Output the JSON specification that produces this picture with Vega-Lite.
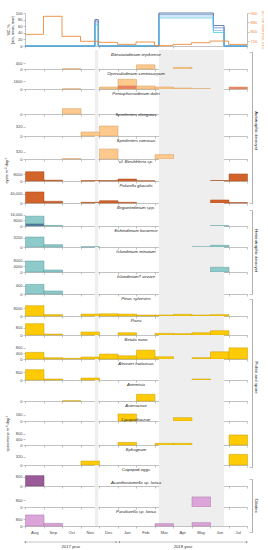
{
"$schema":"https://vega.github.io/schema/vega-lite/v6.json",
"padding":{"left":4,"top":9,"right":0,"bottom":0},
"bounds":"flush",
"spacing":0,
"resolve":{"scale":{"color":"independent"}},
"config":{
 "view":{"stroke":null},
 "font":"Liberation Sans",
 "axis":{"labelFontSize":4,"labelColor":"#444","tickColor":"#999","domainColor":"#999","tickWidth":0.6,"domainWidth":0.6,"grid":false,"labelPadding":1,"tickSize":2,"titleFontSize":4,"titleFontWeight":"normal","titleColor":"#222","labelFlush":false,"labelOverlap":false,"minExtent":0},
 "axisX":{"labels":false},
 "axisY":{"domain":false,"labelExpr":"datum.value >= 10000 ? format(datum.value, ',') : format(datum.value, 'd')"},
 "axisRight":{"labels":false,"ticks":false,"domain":true,"domainColor":"#777","domainWidth":0.6,"offset":5,"titleFontSize":4.3,"titleAngle":90,"titleX":3.5,"titleBaseline":"middle","titleAlign":"center","titleColor":"#111"},
 "title":{"fontSize":4.3,"fontStyle":"italic","fontWeight":"normal","color":"#222","offset":-7,"frame":"group","anchor":"middle","baseline":"bottom"}
},
"datasets":{
 "shade":[{"from":3.78,"to":3.96},{"from":7.24,"to":10.76}],
 "sic":[
  {"stat":"max","t":0,"sic":0},{"stat":"max","t":3.78,"sic":80},{"stat":"max","t":3.96,"sic":0},{"stat":"max","t":7.24,"sic":100},{"stat":"max","t":10.18,"sic":62},{"stat":"max","t":10.76,"sic":0},{"stat":"max","t":12,"sic":0},
  {"stat":"upper","t":0,"sic":0},{"stat":"upper","t":3.78,"sic":76},{"stat":"upper","t":3.96,"sic":0},{"stat":"upper","t":7.24,"sic":96},{"stat":"upper","t":10.18,"sic":55},{"stat":"upper","t":10.76,"sic":0},{"stat":"upper","t":12,"sic":0},
  {"stat":"mean","t":0,"sic":0},{"stat":"mean","t":3.78,"sic":70},{"stat":"mean","t":3.96,"sic":0},{"stat":"mean","t":7.24,"sic":91},{"stat":"mean","t":10.18,"sic":47},{"stat":"mean","t":10.76,"sic":0},{"stat":"mean","t":12,"sic":0},
  {"stat":"min","t":0,"sic":0},{"stat":"min","t":3.78,"sic":64},{"stat":"min","t":3.96,"sic":0},{"stat":"min","t":7.24,"sic":85},{"stat":"min","t":10.18,"sic":41},{"stat":"min","t":10.76,"sic":0},{"stat":"min","t":12,"sic":0}
 ],
 "flux":[{"t":0,"flux":779},{"t":1,"flux":932},{"t":2,"flux":762},{"t":3,"flux":720},{"t":4,"flux":711},{"t":5,"flux":694},{"t":6,"flux":714},{"t":7,"flux":683},{"t":8,"flux":694},{"t":9,"flux":708},{"t":10,"flux":722},{"t":11,"flux":694},{"t":12,"flux":694}],
 "years":[{"year":"2017 year","from":0,"to":4.95},{"year":"2018 year","from":5.08,"to":12}],
 "bars":[
  {"taxon":"Bitectatodinium tepikiense","m":2,"v":15},{"taxon":"Bitectatodinium tepikiense","m":6,"v":280},{"taxon":"Bitectatodinium tepikiense","m":8,"v":110},
  {"taxon":"Operculodinium centrocarpum","m":2,"v":40,"part":"main"},{"taxon":"Operculodinium centrocarpum","m":4,"v":400,"part":"main"},{"taxon":"Operculodinium centrocarpum","m":5,"v":1350,"part":"main"},{"taxon":"Operculodinium centrocarpum","m":5,"v":600,"part":"upper"},{"taxon":"Operculodinium centrocarpum","m":6,"v":600,"part":"main"},{"taxon":"Operculodinium centrocarpum","m":7,"v":400,"part":"main"},{"taxon":"Operculodinium centrocarpum","m":8,"v":200,"part":"main"},{"taxon":"Operculodinium centrocarpum","m":9,"v":60,"part":"main"},{"taxon":"Operculodinium centrocarpum","m":11,"v":400,"part":"upper"},
  {"taxon":"Pentapharsodinium dalei","m":2,"v":100},
  {"taxon":"Spiniferites elongatus","m":3,"v":142},{"taxon":"Spiniferites elongatus","m":4,"v":356},
  {"taxon":"Spiniferites ramosus","m":2,"v":15},{"taxon":"Spiniferites ramosus","m":4,"v":436},{"taxon":"Spiniferites ramosus","m":7,"v":190},
  {"taxon":"cf. Biecheleria sp.","m":0,"v":11100},{"taxon":"cf. Biecheleria sp.","m":1,"v":1000},{"taxon":"cf. Biecheleria sp.","m":3,"v":500},{"taxon":"cf. Biecheleria sp.","m":4,"v":500},{"taxon":"cf. Biecheleria sp.","m":5,"v":2400},{"taxon":"cf. Biecheleria sp.","m":6,"v":300},{"taxon":"cf. Biecheleria sp.","m":10,"v":600},{"taxon":"cf. Biecheleria sp.","m":11,"v":8400},
  {"taxon":"Polarella glacialis","m":0,"v":47500},{"taxon":"Polarella glacialis","m":1,"v":7500},{"taxon":"Polarella glacialis","m":3,"v":3000},{"taxon":"Polarella glacialis","m":4,"v":10000},{"taxon":"Polarella glacialis","m":5,"v":3000},{"taxon":"Polarella glacialis","m":10,"v":13000},{"taxon":"Polarella glacialis","m":11,"v":2000},
  {"taxon":"Brigantedinium spp.","m":0,"v":11000,"part":"main"},{"taxon":"Brigantedinium spp.","m":0,"v":2900,"part":"upper"},{"taxon":"Brigantedinium spp.","m":1,"v":800,"part":"main"},{"taxon":"Brigantedinium spp.","m":10,"v":400,"part":"main"},
  {"taxon":"Echinidinium karaense","m":0,"v":3440},{"taxon":"Echinidinium karaense","m":1,"v":800},{"taxon":"Echinidinium karaense","m":3,"v":80},{"taxon":"Echinidinium karaense","m":9,"v":60},{"taxon":"Echinidinium karaense","m":10,"v":580},
  {"taxon":"Islandinium minutum","m":0,"v":8000},{"taxon":"Islandinium minutum","m":1,"v":1450},{"taxon":"Islandinium minutum","m":10,"v":3400},
  {"taxon":"Islandinium? cezare","m":0,"v":465},{"taxon":"Islandinium? cezare","m":1,"v":145},
  {"taxon":"Pinus sylvestris","m":0,"v":10700},{"taxon":"Pinus sylvestris","m":1,"v":1400},{"taxon":"Pinus sylvestris","m":3,"v":2000},{"taxon":"Pinus sylvestris","m":4,"v":2300},{"taxon":"Pinus sylvestris","m":5,"v":2000},{"taxon":"Pinus sylvestris","m":6,"v":1000},{"taxon":"Pinus sylvestris","m":7,"v":1000},{"taxon":"Pinus sylvestris","m":8,"v":1700},{"taxon":"Pinus sylvestris","m":9,"v":1000},{"taxon":"Pinus sylvestris","m":10,"v":1400},
  {"taxon":"Picea","m":0,"v":1240},{"taxon":"Picea","m":1,"v":100},{"taxon":"Picea","m":3,"v":330},{"taxon":"Picea","m":5,"v":250},{"taxon":"Picea","m":7,"v":180},{"taxon":"Picea","m":8,"v":150},{"taxon":"Picea","m":9,"v":250},{"taxon":"Picea","m":10,"v":470},
  {"taxon":"Betula nana","m":0,"v":470},{"taxon":"Betula nana","m":1,"v":90},{"taxon":"Betula nana","m":2,"v":50},{"taxon":"Betula nana","m":3,"v":140},{"taxon":"Betula nana","m":4,"v":350},{"taxon":"Betula nana","m":5,"v":230},{"taxon":"Betula nana","m":6,"v":630},{"taxon":"Betula nana","m":7,"v":160},{"taxon":"Betula nana","m":9,"v":90},{"taxon":"Betula nana","m":10,"v":510},{"taxon":"Betula nana","m":11,"v":790},
  {"taxon":"Alnaster fruticosus","m":0,"v":1030},{"taxon":"Alnaster fruticosus","m":1,"v":100},{"taxon":"Alnaster fruticosus","m":3,"v":200},{"taxon":"Alnaster fruticosus","m":9,"v":100},
  {"taxon":"Artemisia","m":2,"v":3},{"taxon":"Artemisia","m":6,"v":80},
  {"taxon":"Asteraceae","m":5,"v":187},{"taxon":"Asteraceae","m":8,"v":88},
  {"taxon":"Lycopodiaceae","m":5,"v":190},{"taxon":"Lycopodiaceae","m":7,"v":120},{"taxon":"Lycopodiaceae","m":8,"v":120},{"taxon":"Lycopodiaceae","m":11,"v":730},
  {"taxon":"Sphagnum","m":3,"v":154},{"taxon":"Sphagnum","m":11,"v":410},
  {"taxon":"Copepod eggs","m":0,"v":890},
  {"taxon":"Acanthostomella sp. lorica","m":9,"v":1200},
  {"taxon":"Parafavella sp. lorica","m":0,"v":1320},{"taxon":"Parafavella sp. lorica","m":1,"v":320},{"taxon":"Parafavella sp. lorica","m":7,"v":280},{"taxon":"Parafavella sp. lorica","m":9,"v":400}
 ]
},
"vconcat":[
 {"height":33,"width":222,
  "layer":[
   {"data":{"name":"sic"},"mark":{"type":"line","interpolate":"step-after","strokeWidth":0.7},
    "encoding":{"x":{"field":"t","type":"quantitative","scale":{"domain":[0,12]},"axis":{"values":[0,1,2,3,4,5,6,7,8,9,10,11,12],"title":null}},
     "y":{"field":"sic","type":"quantitative","scale":{"domain":[0,100]},"axis":{"values":[0,20,40,60,80,100],"domain":true,"title":["SIC, %","(min, mean, max)"],"titleX":-17,"titleFontSize":3.6,"titleLineHeight":4,"titleBaseline":"middle"}},
     "color":{"field":"stat","type":"nominal","scale":{"domain":["max","upper","mean","min"],"range":["#2b4b8c","#4a7cc2","#7fb2e2","#37c0e4"]},"legend":null}}},
   {"data":{"name":"flux"},"mark":{"type":"line","interpolate":"step-after","color":"#ec8a3c","strokeWidth":0.9},
    "encoding":{"x":{"field":"t","type":"quantitative"},
     "y":{"field":"flux","type":"quantitative","scale":{"domain":[680,960]},"axis":{"orient":"right","values":[720,800,880,960],"labels":true,"ticks":true,"offset":0,"domainColor":"#999","labelColor":"#ec8a3c","title":"10.7 cm Solar Flux, s.f.u.","titleColor":"#ec8a3c","titleAngle":-90,"titleX":15,"titleFontSize":3.6}}}}
  ],
  "resolve":{"scale":{"y":"independent"}}},
 {"height":4,"width":222,"data":{"name":"shade"},"mark":{"type":"rect","opacity":0},"encoding":{"x":{"field":"from","type":"quantitative","axis":null}}},

 {"height":19,"width":222,"title":"Bitectatodinium tepikiense",
  "layer":[
   {"data":{"name":"shade"},"mark":{"type":"rect","color":"#eeeeee"},"encoding":{"x":{"field":"from","type":"quantitative","scale":{"domain":[0,12]}},"x2":{"field":"to"}}},
   {"data":{"name":"bars"},"transform":[{"filter":"datum.taxon === 'Bitectatodinium tepikiense'"}],"mark":{"type":"bar","binSpacing":0,"color":"#fdc98c","stroke":"#d29a5e","strokeWidth":0.5},
    "encoding":{"x":{"field":"m","type":"quantitative","bin":{"step":1,"extent":[0,12]},"scale":{"domain":[0,12]},"axis":{"values":[0,1,2,3,4,5,6,7,8,9,10,11,12],"title":null}},"y":{"field":"v","type":"quantitative","scale":{"domain":[0,1267]},"axis":{"values":[0,400],"title":null}}}},
   {"data":{"name":"shade"},"mark":{"type":"point","opacity":0},"encoding":{"y":{"datum":0.5,"type":"quantitative","scale":{"domain":[0,1],"range":[19,2]},"axis":{"orient":"right","title":null,"ticks":true,"values":[1],"tickSize":-3}}}}
  ],"resolve":{"scale":{"y":"independent"}}},

 {"height":20,"width":222,"title":"Operculodinium centrocarpum",
  "layer":[
   {"data":{"name":"shade"},"mark":{"type":"rect","color":"#eeeeee"},"encoding":{"x":{"field":"from","type":"quantitative","scale":{"domain":[0,12]}},"x2":{"field":"to"}}},
   {"data":{"name":"bars"},"transform":[{"filter":"datum.taxon === 'Operculodinium centrocarpum'"}],"mark":{"type":"bar","binSpacing":0,"stroke":"#d29a5e","strokeWidth":0.5},
    "encoding":{"x":{"field":"m","type":"quantitative","bin":{"step":1,"extent":[0,12]},"scale":{"domain":[0,12]},"axis":{"values":[0,1,2,3,4,5,6,7,8,9,10,11,12],"title":null}},"y":{"field":"v","type":"quantitative","scale":{"domain":[0,4000]},"axis":{"values":[0,1600],"title":null}},
     "color":{"field":"part","type":"nominal","scale":{"domain":["main","upper"],"range":["#fdc98c","#ee7d63"]},"legend":null}}},
   {"data":{"name":"shade"},"mark":{"type":"point","opacity":0},"encoding":{"y":{"datum":0.5,"type":"quantitative","scale":{"domain":[0,1],"range":[20,0]},"axis":{"orient":"right","title":null}}}}
  ],"resolve":{"scale":{"y":"independent"}}},

 {"height":25,"width":222,"title":"Pentapharsodinium dalei",
  "layer":[
   {"data":{"name":"shade"},"mark":{"type":"rect","color":"#eeeeee"},"encoding":{"x":{"field":"from","type":"quantitative","scale":{"domain":[0,12]}},"x2":{"field":"to"}}},
   {"data":{"name":"bars"},"transform":[{"filter":"datum.taxon === 'Pentapharsodinium dalei'"}],"mark":{"type":"bar","binSpacing":0,"color":"#fdc98c","stroke":"#d29a5e","strokeWidth":0.5},
    "encoding":{"x":{"field":"m","type":"quantitative","bin":{"step":1,"extent":[0,12]},"scale":{"domain":[0,12]},"axis":{"values":[0,1,2,3,4,5,6,7,8,9,10,11,12],"title":null}},"y":{"field":"v","type":"quantitative","scale":{"domain":[0,470]},"axis":{"values":[0],"title":null}}}},
   {"data":{"name":"shade"},"mark":{"type":"point","opacity":0},"encoding":{"y":{"datum":0.5,"type":"quantitative","scale":{"domain":[0,1],"range":[25,0]},"axis":{"orient":"right","title":null}}}}
  ],"resolve":{"scale":{"y":"independent"}}},

 {"height":22,"width":222,"title":"Spiniferites elongatus",
  "layer":[
   {"data":{"name":"shade"},"mark":{"type":"rect","color":"#eeeeee"},"encoding":{"x":{"field":"from","type":"quantitative","scale":{"domain":[0,12]}},"x2":{"field":"to"}}},
   {"data":{"name":"bars"},"transform":[{"filter":"datum.taxon === 'Spiniferites elongatus'"}],"mark":{"type":"bar","binSpacing":0,"color":"#fdc98c","stroke":"#d29a5e","strokeWidth":0.5},
    "encoding":{"x":{"field":"m","type":"quantitative","bin":{"step":1,"extent":[0,12]},"scale":{"domain":[0,12]},"axis":{"values":[0,1,2,3,4,5,6,7,8,9,10,11,12],"title":null}},"y":{"field":"v","type":"quantitative","scale":{"domain":[0,782]},"axis":{"values":[0,320],"title":null}}}},
   {"data":{"name":"shade"},"mark":{"type":"point","opacity":0},"encoding":{"y":{"datum":0.5,"type":"quantitative","scale":{"domain":[0,1],"range":[22,0]},"axis":{"orient":"right","title":"Autotrophic dinocyst","titleY":16}}}}
  ],"resolve":{"scale":{"y":"independent"}}},

 {"height":23,"width":222,"title":"Spiniferites ramosus",
  "layer":[
   {"data":{"name":"shade"},"mark":{"type":"rect","color":"#eeeeee"},"encoding":{"x":{"field":"from","type":"quantitative","scale":{"domain":[0,12]}},"x2":{"field":"to"}}},
   {"data":{"name":"bars"},"transform":[{"filter":"datum.taxon === 'Spiniferites ramosus'"}],"mark":{"type":"bar","binSpacing":0,"color":"#fdc98c","stroke":"#d29a5e","strokeWidth":0.5},
    "encoding":{"x":{"field":"m","type":"quantitative","bin":{"step":1,"extent":[0,12]},"scale":{"domain":[0,12]},"axis":{"values":[0,1,2,3,4,5,6,7,8,9,10,11,12],"title":null}},"y":{"field":"v","type":"quantitative","scale":{"domain":[0,1008]},"axis":{"values":[0,320],"title":null}}}},
   {"data":{"name":"shade"},"mark":{"type":"point","opacity":0},"encoding":{"y":{"datum":0.5,"type":"quantitative","scale":{"domain":[0,1],"range":[23,0]},"axis":{"orient":"right","title":null}}}}
  ],"resolve":{"scale":{"y":"independent"}}},

 {"height":22,"width":222,"title":"cf. Biecheleria sp.",
  "layer":[
   {"data":{"name":"shade"},"mark":{"type":"rect","color":"#eeeeee"},"encoding":{"x":{"field":"from","type":"quantitative","scale":{"domain":[0,12]}},"x2":{"field":"to"}}},
   {"data":{"name":"bars"},"transform":[{"filter":"datum.taxon === 'cf. Biecheleria sp.'"}],"mark":{"type":"bar","binSpacing":0,"color":"#d2632b","stroke":"#a94c1f","strokeWidth":0.5},
    "encoding":{"x":{"field":"m","type":"quantitative","bin":{"step":1,"extent":[0,12]},"scale":{"domain":[0,12]},"axis":{"values":[0,1,2,3,4,5,6,7,8,9,10,11,12],"title":null}},"y":{"field":"v","type":"quantitative","scale":{"domain":[0,26270]},"axis":{"values":[0,8000],"title":"cysts m⁻² day⁻¹","titleX":-19,"titleBaseline":"middle"}}}},
   {"data":{"name":"shade"},"mark":{"type":"point","opacity":0},"encoding":{"y":{"datum":0.5,"type":"quantitative","scale":{"domain":[0,1],"range":[22,0]},"axis":{"orient":"right","title":null}}}}
  ],"resolve":{"scale":{"y":"independent"}}},

 {"height":22,"width":222,"title":"Polarella glacialis",
  "layer":[
   {"data":{"name":"shade"},"mark":{"type":"rect","color":"#eeeeee"},"encoding":{"x":{"field":"from","type":"quantitative","scale":{"domain":[0,12]}},"x2":{"field":"to"}}},
   {"data":{"name":"bars"},"transform":[{"filter":"datum.taxon === 'Polarella glacialis'"}],"mark":{"type":"bar","binSpacing":0,"color":"#d2632b","stroke":"#a94c1f","strokeWidth":0.5},
    "encoding":{"x":{"field":"m","type":"quantitative","bin":{"step":1,"extent":[0,12]},"scale":{"domain":[0,12]},"axis":{"values":[0,1,2,3,4,5,6,7,8,9,10,11,12],"title":null}},"y":{"field":"v","type":"quantitative","scale":{"domain":[0,94600]},"axis":{"values":[0,40000],"title":null}}}},
   {"data":{"name":"shade"},"mark":{"type":"point","opacity":0},"encoding":{"y":{"datum":0.5,"type":"quantitative","scale":{"domain":[0,1],"range":[22,0]},"axis":{"orient":"right","title":null,"ticks":true,"values":[0],"tickSize":-3}}}}
  ],"resolve":{"scale":{"y":"independent"}}},

 {"height":23,"width":222,"title":"Brigantedinium spp.",
  "layer":[
   {"data":{"name":"shade"},"mark":{"type":"rect","color":"#eeeeee"},"encoding":{"x":{"field":"from","type":"quantitative","scale":{"domain":[0,12]}},"x2":{"field":"to"}}},
   {"data":{"name":"bars"},"transform":[{"filter":"datum.taxon === 'Brigantedinium spp.'"}],"mark":{"type":"bar","binSpacing":0,"stroke":"#5a9a9c","strokeWidth":0.5},
    "encoding":{"x":{"field":"m","type":"quantitative","bin":{"step":1,"extent":[0,12]},"scale":{"domain":[0,12]},"axis":{"values":[0,1,2,3,4,5,6,7,8,9,10,11,12],"title":null}},"y":{"field":"v","type":"quantitative","scale":{"domain":[0,32560]},"axis":{"values":[0,8000,16000],"title":null}},
     "color":{"field":"part","type":"nominal","scale":{"domain":["main","upper"],"range":["#8fcacb","#4d6f98"]},"legend":null}}},
   {"data":{"name":"shade"},"mark":{"type":"point","opacity":0},"encoding":{"y":{"datum":0.5,"type":"quantitative","scale":{"domain":[0,1],"range":[23,7]},"axis":{"orient":"right","title":null,"ticks":true,"values":[1],"tickSize":-3}}}}
  ],"resolve":{"scale":{"y":"independent"}}},

 {"height":21,"width":222,"title":"Echinidinium karaense",
  "layer":[
   {"data":{"name":"shade"},"mark":{"type":"rect","color":"#eeeeee"},"encoding":{"x":{"field":"from","type":"quantitative","scale":{"domain":[0,12]}},"x2":{"field":"to"}}},
   {"data":{"name":"bars"},"transform":[{"filter":"datum.taxon === 'Echinidinium karaense'"}],"mark":{"type":"bar","binSpacing":0,"color":"#8fcacb","stroke":"#5a9a9c","strokeWidth":0.5},
    "encoding":{"x":{"field":"m","type":"quantitative","bin":{"step":1,"extent":[0,12]},"scale":{"domain":[0,12]},"axis":{"values":[0,1,2,3,4,5,6,7,8,9,10,11,12],"title":null}},"y":{"field":"v","type":"quantitative","scale":{"domain":[0,7226]},"axis":{"values":[0,3200],"title":null}}}},
   {"data":{"name":"shade"},"mark":{"type":"point","opacity":0},"encoding":{"y":{"datum":0.5,"type":"quantitative","scale":{"domain":[0,1],"range":[21,0]},"axis":{"orient":"right","title":"Heterotrophic dinocyst","titleY":24}}}}
  ],"resolve":{"scale":{"y":"independent"}}},

 {"height":25,"width":222,"title":"Islandinium minutum",
  "layer":[
   {"data":{"name":"shade"},"mark":{"type":"rect","color":"#eeeeee"},"encoding":{"x":{"field":"from","type":"quantitative","scale":{"domain":[0,12]}},"x2":{"field":"to"}}},
   {"data":{"name":"bars"},"transform":[{"filter":"datum.taxon === 'Islandinium minutum'"}],"mark":{"type":"bar","binSpacing":0,"color":"#8fcacb","stroke":"#5a9a9c","strokeWidth":0.5},
    "encoding":{"x":{"field":"m","type":"quantitative","bin":{"step":1,"extent":[0,12]},"scale":{"domain":[0,12]},"axis":{"values":[0,1,2,3,4,5,6,7,8,9,10,11,12],"title":null}},"y":{"field":"v","type":"quantitative","scale":{"domain":[0,18180]},"axis":{"values":[0,4000,8000],"title":null}}}},
   {"data":{"name":"shade"},"mark":{"type":"point","opacity":0},"encoding":{"y":{"datum":0.5,"type":"quantitative","scale":{"domain":[0,1],"range":[25,0]},"axis":{"orient":"right","title":null}}}}
  ],"resolve":{"scale":{"y":"independent"}}},

 {"height":22,"width":222,"title":"Islandinium? cezare",
  "layer":[
   {"data":{"name":"shade"},"mark":{"type":"rect","color":"#eeeeee"},"encoding":{"x":{"field":"from","type":"quantitative","scale":{"domain":[0,12]}},"x2":{"field":"to"}}},
   {"data":{"name":"bars"},"transform":[{"filter":"datum.taxon === 'Islandinium? cezare'"}],"mark":{"type":"bar","binSpacing":0,"color":"#8fcacb","stroke":"#5a9a9c","strokeWidth":0.5},
    "encoding":{"x":{"field":"m","type":"quantitative","bin":{"step":1,"extent":[0,12]},"scale":{"domain":[0,12]},"axis":{"values":[0,1,2,3,4,5,6,7,8,9,10,11,12],"title":null}},"y":{"field":"v","type":"quantitative","scale":{"domain":[0,1060]},"axis":{"values":[0,400],"title":null}}}},
   {"data":{"name":"shade"},"mark":{"type":"point","opacity":0},"encoding":{"y":{"datum":0.5,"type":"quantitative","scale":{"domain":[0,1],"range":[22,0]},"axis":{"orient":"right","title":null,"ticks":true,"values":[0],"tickSize":-3}}}}
  ],"resolve":{"scale":{"y":"independent"}}},

 {"height":22,"width":222,"title":"Pinus sylvestris",
  "layer":[
   {"data":{"name":"shade"},"mark":{"type":"rect","color":"#eeeeee"},"encoding":{"x":{"field":"from","type":"quantitative","scale":{"domain":[0,12]}},"x2":{"field":"to"}}},
   {"data":{"name":"bars"},"transform":[{"filter":"datum.taxon === 'Pinus sylvestris'"}],"mark":{"type":"bar","binSpacing":0,"color":"#ffcb05","stroke":"#c59c00","strokeWidth":0.5},
    "encoding":{"x":{"field":"m","type":"quantitative","bin":{"step":1,"extent":[0,12]},"scale":{"domain":[0,12]},"axis":{"values":[0,1,2,3,4,5,6,7,8,9,10,11,12],"title":null}},"y":{"field":"v","type":"quantitative","scale":{"domain":[0,22860]},"axis":{"values":[0,8000],"title":null}}}},
   {"data":{"name":"shade"},"mark":{"type":"point","opacity":0},"encoding":{"y":{"datum":0.5,"type":"quantitative","scale":{"domain":[0,1],"range":[22,5]},"axis":{"orient":"right","title":null,"ticks":true,"values":[1],"tickSize":-3}}}}
  ],"resolve":{"scale":{"y":"independent"}}},

 {"height":19,"width":222,"title":"Picea",
  "layer":[
   {"data":{"name":"shade"},"mark":{"type":"rect","color":"#eeeeee"},"encoding":{"x":{"field":"from","type":"quantitative","scale":{"domain":[0,12]}},"x2":{"field":"to"}}},
   {"data":{"name":"bars"},"transform":[{"filter":"datum.taxon === 'Picea'"}],"mark":{"type":"bar","binSpacing":0,"color":"#ffcb05","stroke":"#c59c00","strokeWidth":0.5},
    "encoding":{"x":{"field":"m","type":"quantitative","bin":{"step":1,"extent":[0,12]},"scale":{"domain":[0,12]},"axis":{"values":[0,1,2,3,4,5,6,7,8,9,10,11,12],"title":null}},"y":{"field":"v","type":"quantitative","scale":{"domain":[0,2082]},"axis":{"values":[0,800],"title":null}}}},
   {"data":{"name":"shade"},"mark":{"type":"point","opacity":0},"encoding":{"y":{"datum":0.5,"type":"quantitative","scale":{"domain":[0,1],"range":[19,0]},"axis":{"orient":"right","title":null}}}}
  ],"resolve":{"scale":{"y":"independent"}}},

 {"height":24,"width":222,"title":"Betula nana",
  "layer":[
   {"data":{"name":"shade"},"mark":{"type":"rect","color":"#eeeeee"},"encoding":{"x":{"field":"from","type":"quantitative","scale":{"domain":[0,12]}},"x2":{"field":"to"}}},
   {"data":{"name":"bars"},"transform":[{"filter":"datum.taxon === 'Betula nana'"}],"mark":{"type":"bar","binSpacing":0,"color":"#ffcb05","stroke":"#c59c00","strokeWidth":0.5},
    "encoding":{"x":{"field":"m","type":"quantitative","bin":{"step":1,"extent":[0,12]},"scale":{"domain":[0,12]},"axis":{"values":[0,1,2,3,4,5,6,7,8,9,10,11,12],"title":null}},"y":{"field":"v","type":"quantitative","scale":{"domain":[0,1700]},"axis":{"values":[0,400,800],"title":null}}}},
   {"data":{"name":"shade"},"mark":{"type":"point","opacity":0},"encoding":{"y":{"datum":0.5,"type":"quantitative","scale":{"domain":[0,1],"range":[24,0]},"axis":{"orient":"right","title":null}}}}
  ],"resolve":{"scale":{"y":"independent"}}},

 {"height":21,"width":222,"title":"Alnaster fruticosus",
  "layer":[
   {"data":{"name":"shade"},"mark":{"type":"rect","color":"#eeeeee"},"encoding":{"x":{"field":"from","type":"quantitative","scale":{"domain":[0,12]}},"x2":{"field":"to"}}},
   {"data":{"name":"bars"},"transform":[{"filter":"datum.taxon === 'Alnaster fruticosus'"}],"mark":{"type":"bar","binSpacing":0,"color":"#ffcb05","stroke":"#c59c00","strokeWidth":0.5},
    "encoding":{"x":{"field":"m","type":"quantitative","bin":{"step":1,"extent":[0,12]},"scale":{"domain":[0,12]},"axis":{"values":[0,1,2,3,4,5,6,7,8,9,10,11,12],"title":null}},"y":{"field":"v","type":"quantitative","scale":{"domain":[0,2100]},"axis":{"values":[0,800],"title":null}}}},
   {"data":{"name":"shade"},"mark":{"type":"point","opacity":0},"encoding":{"y":{"datum":0.5,"type":"quantitative","scale":{"domain":[0,1],"range":[21,0]},"axis":{"orient":"right","title":"Pollen and spore","titleY":18}}}}
  ],"resolve":{"scale":{"y":"independent"}}},

 {"height":21,"width":222,"title":"Artemisia",
  "layer":[
   {"data":{"name":"shade"},"mark":{"type":"rect","color":"#eeeeee"},"encoding":{"x":{"field":"from","type":"quantitative","scale":{"domain":[0,12]}},"x2":{"field":"to"}}},
   {"data":{"name":"bars"},"transform":[{"filter":"datum.taxon === 'Artemisia'"}],"mark":{"type":"bar","binSpacing":0,"color":"#ffcb05","stroke":"#c59c00","strokeWidth":0.5},
    "encoding":{"x":{"field":"m","type":"quantitative","bin":{"step":1,"extent":[0,12]},"scale":{"domain":[0,12]},"axis":{"values":[0,1,2,3,4,5,6,7,8,9,10,11,12],"title":null}},"y":{"field":"v","type":"quantitative","scale":{"domain":[0,251]},"axis":{"values":[0],"title":null}}}},
   {"data":{"name":"shade"},"mark":{"type":"point","opacity":0},"encoding":{"y":{"datum":0.5,"type":"quantitative","scale":{"domain":[0,1],"range":[21,0]},"axis":{"orient":"right","title":null}}}}
  ],"resolve":{"scale":{"y":"independent"}}},

 {"height":20,"width":222,"title":"Asteraceae",
  "layer":[
   {"data":{"name":"shade"},"mark":{"type":"rect","color":"#eeeeee"},"encoding":{"x":{"field":"from","type":"quantitative","scale":{"domain":[0,12]}},"x2":{"field":"to"}}},
   {"data":{"name":"bars"},"transform":[{"filter":"datum.taxon === 'Asteraceae'"}],"mark":{"type":"bar","binSpacing":0,"color":"#ffcb05","stroke":"#c59c00","strokeWidth":0.5},
    "encoding":{"x":{"field":"m","type":"quantitative","bin":{"step":1,"extent":[0,12]},"scale":{"domain":[0,12]},"axis":{"values":[0,1,2,3,4,5,6,7,8,9,10,11,12],"title":null}},"y":{"field":"v","type":"quantitative","scale":{"domain":[0,533]},"axis":{"values":[0,160],"title":null}}}},
   {"data":{"name":"shade"},"mark":{"type":"point","opacity":0},"encoding":{"y":{"datum":0.5,"type":"quantitative","scale":{"domain":[0,1],"range":[20,0]},"axis":{"orient":"right","title":null}}}}
  ],"resolve":{"scale":{"y":"independent"}}},

 {"height":24,"width":222,"title":"Lycopodiaceae",
  "layer":[
   {"data":{"name":"shade"},"mark":{"type":"rect","color":"#eeeeee"},"encoding":{"x":{"field":"from","type":"quantitative","scale":{"domain":[0,12]}},"x2":{"field":"to"}}},
   {"data":{"name":"bars"},"transform":[{"filter":"datum.taxon === 'Lycopodiaceae'"}],"mark":{"type":"bar","binSpacing":0,"color":"#ffcb05","stroke":"#c59c00","strokeWidth":0.5},
    "encoding":{"x":{"field":"m","type":"quantitative","bin":{"step":1,"extent":[0,12]},"scale":{"domain":[0,12]},"axis":{"values":[0,1,2,3,4,5,6,7,8,9,10,11,12],"title":null}},"y":{"field":"v","type":"quantitative","scale":{"domain":[0,1745]},"axis":{"values":[0,400,800],"title":"specimens m⁻² day⁻¹","titleX":-18,"titleBaseline":"middle"}}}},
   {"data":{"name":"shade"},"mark":{"type":"point","opacity":0},"encoding":{"y":{"datum":0.5,"type":"quantitative","scale":{"domain":[0,1],"range":[24,0]},"axis":{"orient":"right","title":null}}}}
  ],"resolve":{"scale":{"y":"independent"}}},

 {"height":20,"width":222,"title":"Sphagnum",
  "layer":[
   {"data":{"name":"shade"},"mark":{"type":"rect","color":"#eeeeee"},"encoding":{"x":{"field":"from","type":"quantitative","scale":{"domain":[0,12]}},"x2":{"field":"to"}}},
   {"data":{"name":"bars"},"transform":[{"filter":"datum.taxon === 'Sphagnum'"}],"mark":{"type":"bar","binSpacing":0,"color":"#ffcb05","stroke":"#c59c00","strokeWidth":0.5},
    "encoding":{"x":{"field":"m","type":"quantitative","bin":{"step":1,"extent":[0,12]},"scale":{"domain":[0,12]},"axis":{"values":[0,1,2,3,4,5,6,7,8,9,10,11,12],"title":null}},"y":{"field":"v","type":"quantitative","scale":{"domain":[0,771]},"axis":{"values":[0,320],"title":null}}}},
   {"data":{"name":"shade"},"mark":{"type":"point","opacity":0},"encoding":{"y":{"datum":0.5,"type":"quantitative","scale":{"domain":[0,1],"range":[22,0]},"axis":{"orient":"right","title":null,"ticks":true,"values":[0],"tickSize":-3}}}}
  ],"resolve":{"scale":{"y":"independent"}}},

 {"height":21,"width":222,"title":{"text":"Copepod eggs","fontStyle":"normal"},
  "layer":[
   {"data":{"name":"shade"},"mark":{"type":"rect","color":"#eeeeee"},"encoding":{"x":{"field":"from","type":"quantitative","scale":{"domain":[0,12]}},"x2":{"field":"to"}}},
   {"data":{"name":"bars"},"transform":[{"filter":"datum.taxon === 'Copepod eggs'"}],"mark":{"type":"bar","binSpacing":0,"color":"#9b5b98","stroke":"#6e3c6b","strokeWidth":0.5},
    "encoding":{"x":{"field":"m","type":"quantitative","bin":{"step":1,"extent":[0,12]},"scale":{"domain":[0,12]},"axis":{"values":[0,1,2,3,4,5,6,7,8,9,10,11,12],"title":null}},"y":{"field":"v","type":"quantitative","scale":{"domain":[0,1806]},"axis":{"values":[0,800],"title":null}}}}
  ]},

 {"height":21,"width":222,"title":"Acanthostomella sp. lorica",
  "layer":[
   {"data":{"name":"shade"},"mark":{"type":"rect","color":"#eeeeee"},"encoding":{"x":{"field":"from","type":"quantitative","scale":{"domain":[0,12]}},"x2":{"field":"to"}}},
   {"data":{"name":"bars"},"transform":[{"filter":"datum.taxon === 'Acanthostomella sp. lorica'"}],"mark":{"type":"bar","binSpacing":0,"color":"#dba5da","stroke":"#a877a7","strokeWidth":0.5},
    "encoding":{"x":{"field":"m","type":"quantitative","bin":{"step":1,"extent":[0,12]},"scale":{"domain":[0,12]},"axis":{"values":[0,1,2,3,4,5,6,7,8,9,10,11,12],"title":null}},"y":{"field":"v","type":"quantitative","scale":{"domain":[0,2507]},"axis":{"values":[0,800],"title":null}}}},
   {"data":{"name":"shade"},"mark":{"type":"point","opacity":0},"encoding":{"y":{"datum":0.5,"type":"quantitative","scale":{"domain":[0,1],"range":[21,-7]},"axis":{"orient":"right","title":"Ciliates","titleY":19,"ticks":true,"values":[1],"tickSize":-3}}}}
  ],"resolve":{"scale":{"y":"independent"}}},

 {"height":19,"width":222,"title":"Parafavella sp. lorica",
  "layer":[
   {"data":{"name":"shade"},"mark":{"type":"rect","color":"#eeeeee"},"encoding":{"x":{"field":"from","type":"quantitative","scale":{"domain":[0,12]}},"x2":{"field":"to"}}},
   {"data":{"name":"bars"},"transform":[{"filter":"datum.taxon === 'Parafavella sp. lorica'"}],"mark":{"type":"bar","binSpacing":0,"color":"#dba5da","stroke":"#a877a7","strokeWidth":0.5},
    "encoding":{"x":{"field":"m","type":"quantitative","bin":{"step":1,"extent":[0,12]},"scale":{"domain":[0,12]},"axis":{"values":[0,1,2,3,4,5,6,7,8,9,10,11,12],"title":null,"labels":true,"labelExpr":"['Aug','Sep','Oct','Nov','Dec','Jan','Feb','Mar','Apr','May','Jun','Jul',''][datum.value]","labelOffset":9.25,"labelPadding":2,"labelFontSize":4.2}},"y":{"field":"v","type":"quantitative","scale":{"domain":[0,2269]},"axis":{"values":[0,800],"title":null}}}},
   {"data":{"name":"shade"},"mark":{"type":"point","opacity":0},"encoding":{"y":{"datum":0.5,"type":"quantitative","scale":{"domain":[0,1],"range":[25,0]},"axis":{"orient":"right","title":null,"ticks":true,"values":[0],"tickSize":-3}}}}
  ],"resolve":{"scale":{"y":"independent"}}},

 {"height":22,"width":222,"data":{"name":"years"},
  "layer":[
   {"mark":{"type":"rule","color":"#888","strokeWidth":0.5},"encoding":{"x":{"field":"from","type":"quantitative","scale":{"domain":[0,12]},"axis":null},"x2":{"field":"to"},"y":{"datum":0.27,"type":"quantitative","scale":{"domain":[0,1]},"axis":null}}},
   {"mark":{"type":"point","shape":"triangle-left","size":5,"filled":true,"color":"#888","opacity":1},"encoding":{"x":{"field":"from","type":"quantitative"},"y":{"datum":0.27,"type":"quantitative"}}},
   {"mark":{"type":"point","shape":"triangle-right","size":5,"filled":true,"color":"#888","opacity":1},"encoding":{"x":{"field":"to","type":"quantitative"},"y":{"datum":0.27,"type":"quantitative"}}},
   {"transform":[{"calculate":"(datum.from + datum.to) / 2","as":"mid"}],"mark":{"type":"text","fontSize":4.2,"color":"#333","baseline":"middle"},"encoding":{"x":{"field":"mid","type":"quantitative"},"y":{"datum":0.03,"type":"quantitative"},"text":{"field":"year"}}}
  ]}
]
}
